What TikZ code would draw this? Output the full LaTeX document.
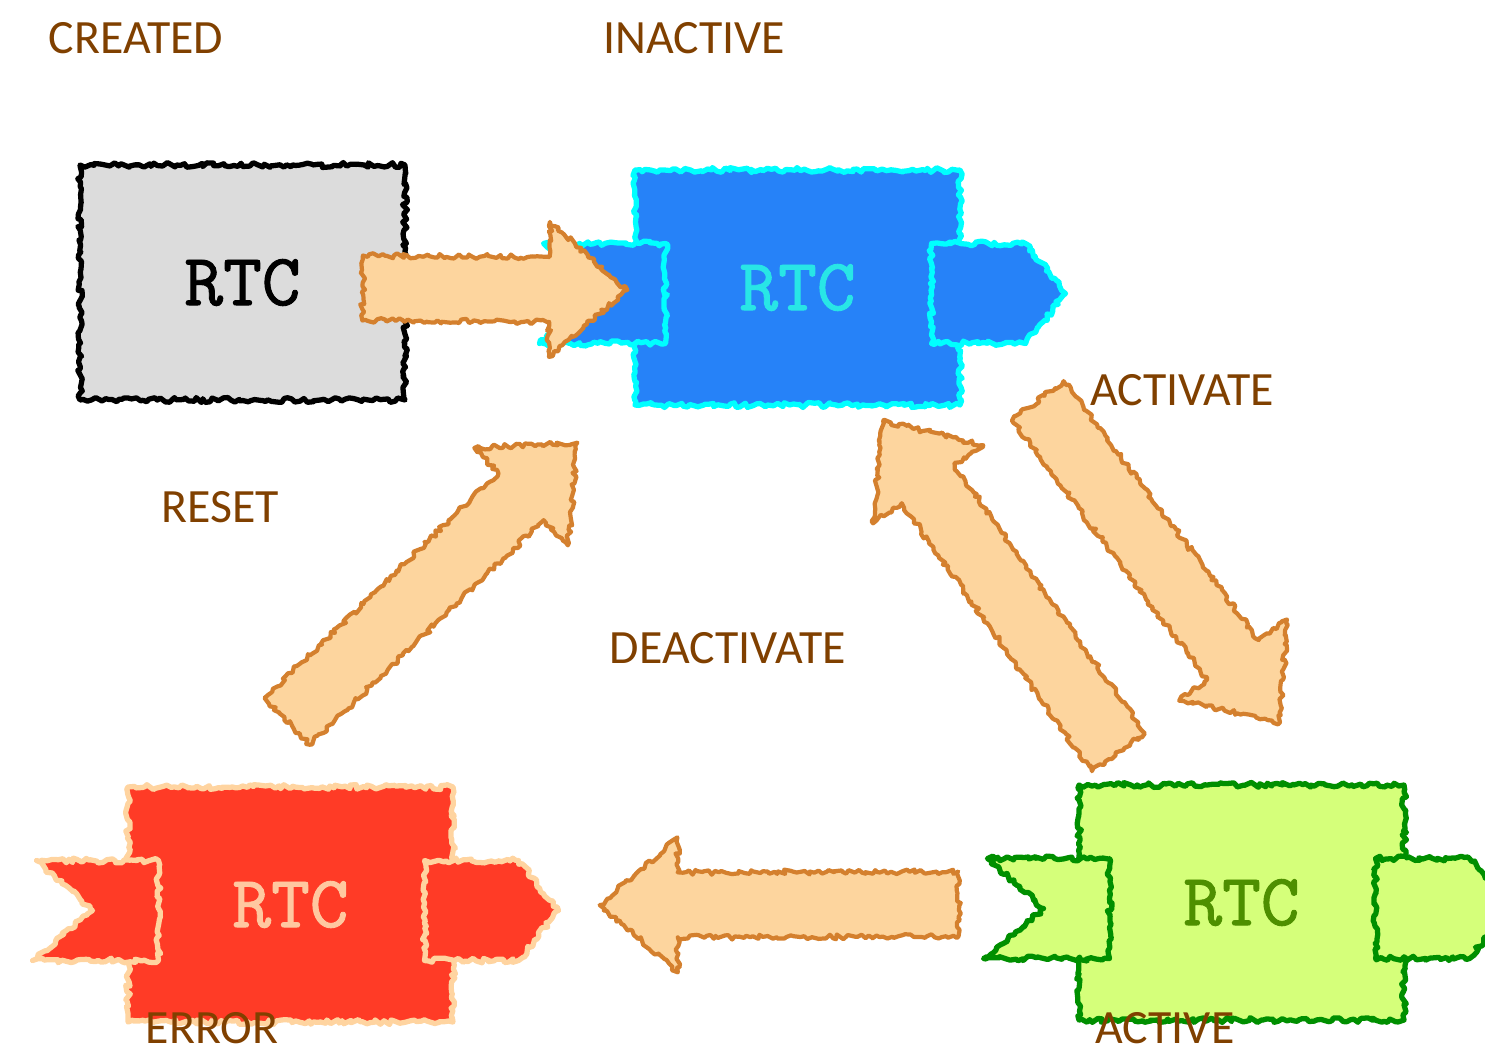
\documentclass[tikz,border=0pt]{standalone}
\usepackage{fontspec}
\setmainfont{Carlito}
\newfontfamily\rtcfont{lmmono10-regular}[Extension=.otf, FakeBold=1.2]
\usetikzlibrary{calc,decorations.pathmorphing}

\definecolor{labelbrown}{RGB}{128,64,0}
\definecolor{arrowfill}{RGB}{253,213,158}
\definecolor{arrowedge}{RGB}{212,128,46}
\definecolor{createdfill}{RGB}{220,220,220}
\definecolor{inactivefill}{RGB}{38,130,248}
\definecolor{inactiveedge}{RGB}{0,255,255}
\definecolor{inactivetext}{RGB}{40,230,230}
\definecolor{errorfill}{RGB}{255,59,38}
\definecolor{erroredge}{RGB}{255,212,160}
\definecolor{errortext}{RGB}{255,200,160}
\definecolor{activefill}{RGB}{213,255,122}
\definecolor{activeedge}{RGB}{0,143,0}
\definecolor{activetext}{RGB}{78,143,0}

\tikzset{
  rough/.style={decorate, decoration={random steps, segment length=1pt, amplitude=0.7pt}, line join=round},
  statebox/.style={rectangle, minimum width=3.25cm, minimum height=2.35cm, line width=1.5pt, rough,
    font=\rtcfont\fontsize{21}{23}\selectfont},
  statelabel/.style={text=labelbrown, font=\fontsize{13.6}{16}\selectfont},
  blockarrow/.style={fill=arrowfill, draw=arrowedge, line width=1.2pt, rough},
}

% the two flags on the sides of a state box
\newcommand{\tabs}[3]{%
  \begin{scope}[shift={(#1.center)}]
    \draw[rough, fill=#2, draw=#3, line width=1.5pt] (-2.54,0.44) -- (-1.32,0.44) -- (-1.32,-0.56) -- (-2.58,-0.56) -- (-1.98,-0.06) -- cycle;
    \draw[rough, fill=#2, draw=#3, line width=1.5pt] (1.34,0.44) -- (2.28,0.44) -- (2.68,-0.06) -- (2.28,-0.56) -- (1.34,-0.56) -- cycle;
  \end{scope}}

% block arrow from coordinate #1 (tail) to coordinate #2 (tip)
\newcommand{\fatarrow}[2]{%
  \coordinate (hb) at ($(#2)!0.78cm!(#1)$);
  \draw[blockarrow] ($(#1)!0.325cm!90:(#2)$) -- ($(hb)!0.325cm!90:(#2)$) -- ($(hb)!0.675cm!90:(#2)$) -- (#2)
    -- ($(hb)!0.675cm!-90:(#2)$) -- ($(hb)!0.325cm!-90:(#2)$) -- ($(#1)!0.325cm!-90:(#2)$) -- cycle;}

\begin{document}
\begin{tikzpicture}

        \pgfmathsetseed{7}
        \useasboundingbox (0,0) rectangle (14.85,-10.5);
        \clip (0,0) rectangle (14.85,-10.5);

        % state boxes
        \node[statebox, fill=createdfill, draw=black] (created) at (2.425,-2.825) {RTC};

        \node[statebox, fill=inactivefill, draw=inactiveedge, text=inactivetext] (inactive) at (7.975,-2.875) {RTC};
        \tabs{inactive}{inactivefill}{inactiveedge}

        \node[statebox, fill=errorfill, draw=erroredge, text=errortext] (error) at (2.905,-9.045) {RTC};
        \tabs{error}{errorfill}{erroredge}

        \node[statebox, fill=activefill, draw=activeedge, text=activetext] (active) at (12.415,-9.025) {RTC};
        \tabs{active}{activefill}{activeedge}

        % state names and transitions
        \node[statelabel] (lcreated) at (1.36,-0.385) {CREATED};
        \node[statelabel] (linactive) at (6.94,-0.385) {INACTIVE};
        \node[statelabel] (lactivate) at (11.82,-3.90) {ACTIVATE};
        \node[statelabel] (lreset) at (2.20,-5.07) {RESET};
        \node[statelabel] (ldeactivate) at (7.28,-6.48) {DEACTIVATE};

        % ends of the arrows
        \coordinate (t1) at ($(created.east)+(-0.45,-0.055)$);
        \coordinate (h1) at ($(inactive.west)+(-0.05,-0.025)$);
        \coordinate (t2) at ($(active.west)+(-1.18,-0.015)$);
        \coordinate (h2) at ($(error.east)+(1.44,-0.005)$);
        \coordinate (t3) at ($(inactive.south east)+(0.75,0.07)$);
        \coordinate (h3) at ($(active.north)+(0.385,0.60)$);
        \coordinate (t4) at ($(active.north west)+(0.42,0.30)$);
        \coordinate (h4) at ($(inactive.south)+(0.855,-0.13)$);
        \coordinate (t5) at ($(error.north)+(-0.035,0.63)$);
        \coordinate (h5) at ($(inactive.south west)+(-0.55,-0.35)$);

        \fatarrow{t1}{h1}  % create
        \fatarrow{t2}{h2}  % error
        \fatarrow{t3}{h3}  % activate
        \fatarrow{t4}{h4}  % deactivate
        \fatarrow{t5}{h5}  % reset

        \node[statelabel] (lerror) at (2.12,-10.28) {ERROR};
        \node[statelabel] (lactive) at (11.65,-10.28) {ACTIVE};

\end{tikzpicture}
\end{document}
